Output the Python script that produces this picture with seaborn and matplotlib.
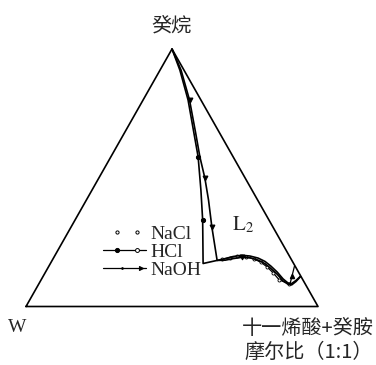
import numpy as np
import pandas as pd
import matplotlib
matplotlib.use("Agg")
import matplotlib.pyplot as plt
import seaborn as sns
from matplotlib.lines import Line2D
from matplotlib.legend_handler import HandlerBase

# Phase-boundary compositions (mass %): decane and undecenoic acid + decylamine (1:1)
hcl_decane = [100, 91.8, 80.2, 67.4, 58.1, 45.2, 33.6, 16.7,
              17.9, 18.6, 19.4, 19.9, 19.6, 18.8, 17.5, 15.7, 13.4, 10.7, 9.1, 8.9, 10.1, 11.7]
hcl_surf = [0, 6.8, 15.4, 23.8, 29.9, 37.3, 43.7, 52.3,
            56.5, 58.9, 61.2, 64.0, 66.9, 70.1, 73.1, 76.0, 79.3, 82.7, 85.2, 86.5, 87.4, 88.1]

naoh_decane = [100, 91.8, 80.2, 67.4, 58.1, 49.9, 41.4, 30.9,
               17.9, 18.0, 18.6, 19.1, 18.9, 18.0, 16.6, 14.8, 12.5, 9.9, 8.6, 8.4, 9.7, 11.6]
naoh_surf = [0, 7.2, 15.9, 24.4, 30.5, 36.3, 41.8, 48.2,
             56.5, 59.3, 61.6, 64.4, 67.3, 70.5, 73.6, 76.4, 79.8, 83.1, 85.5, 86.8, 87.6, 88.2]

nacl_decane = [18.3, 19.0, 19.5, 19.3, 18.5, 17.1, 15.3, 13.0, 10.3, 8.9]
nacl_surf = [57.9, 60.3, 62.6, 65.6, 68.8, 72.0, 75.0, 78.2, 81.6, 85.6]

tie_decane = [8.9, 15.7]
tie_surf = [86.0, 84.1]

# Corners of the diagram: W (water), surfactant pair, decane
corner_decane = [0, 0, 100, 0]
corner_surf = [0, 100, 0, 0]


def to_xy(decane, surf):
    d = np.asarray(decane, float) / 100.0
    s = np.asarray(surf, float) / 100.0
    return pd.DataFrame({"x": s + d / 2.0, "y": d})


sns.set_theme(style="white")
plt.rcParams["mathtext.fontset"] = "stix"
serif = ["Liberation Serif", "DejaVu Serif"]
cjk = ["Noto Sans CJK SC", "DejaVu Sans"]

fig = plt.figure(figsize=(3.76, 3.65), dpi=100)
ax = fig.add_axes([0, 0, 1, 1])
ax.set_xlim(-26 / 292, 350 / 292)
ax.set_ylim(-58.5 / 257.5, 306.5 / 257.5)
ax.axis("off")

tri = to_xy(corner_decane, corner_surf)
sns.lineplot(data=tri, x="x", y="y", sort=False, estimator=None,
             color="black", lw=1.2, ax=ax)

nacl = to_xy(nacl_decane, nacl_surf)
sns.lineplot(data=nacl, x="x", y="y", sort=False, estimator=None, color="black",
             lw=0.9, marker="o", ms=2.2, mfc="white", mec="black", mew=0.6, ax=ax)

hcl = to_xy(hcl_decane, hcl_surf)
sns.lineplot(data=hcl, x="x", y="y", sort=False, estimator=None, color="black",
             lw=1.2, marker="o", ms=3, mfc="black", mec="black", markevery=[4, 6], ax=ax)

naoh = to_xy(naoh_decane, naoh_surf)
sns.lineplot(data=naoh, x="x", y="y", sort=False, estimator=None, color="black",
             lw=1.2, marker="v", ms=3.5, mfc="black", mec="black",
             markevery=[2, 5, 7, 11], ax=ax)

tie = to_xy(tie_decane, tie_surf)
sns.lineplot(data=tie, x="x", y="y", sort=False, estimator=None, color="black",
             lw=0.9, ax=ax)
mid = tie.mean()
ax.plot([mid.x], [mid.y - 0.005], marker="^", ms=3, color="black", ls="none")


class SampleHandler(HandlerBase):
    """Legend sample: optional line plus markers at chosen fractions of its length."""

    def __init__(self, line, marks, **kw):
        super().__init__(**kw)
        self.line = line
        self.marks = marks

    def create_artists(self, legend, orig_handle, xdescent, ydescent,
                       width, height, fontsize, trans):
        y = height / 2 - ydescent
        x0, x1 = -xdescent, width - xdescent
        arts = []
        if self.line:
            arts.append(Line2D([x0, x1], [y, y], color="black", lw=0.9, transform=trans))
        for frac, mk, fc, ms in self.marks:
            xm = x0 + frac * (x1 - x0)
            arts.append(Line2D([xm], [y], marker=mk, ms=ms, mfc=fc, mec="black",
                               mew=0.7, ls="none", transform=trans))
        return arts


h_nacl, h_hcl, h_naoh = Line2D([], []), Line2D([], []), Line2D([], [])
handler_map = {
    h_nacl: SampleHandler(False, [(0.33, "o", "white", 2.3), (0.8, "o", "white", 2.3)]),
    h_hcl: SampleHandler(True, [(0.33, "o", "black", 3), (0.8, "o", "white", 2.8)]),
    h_naoh: SampleHandler(True, [(0.45, "o", "black", 1.2), (0.88, ">", "black", 3)]),
}
ax.legend([h_nacl, h_hcl, h_naoh], ["NaCl", "HCl", "NaOH"], handler_map=handler_map,
          loc="upper left", bbox_to_anchor=(103 / 376, 1 - 225 / 365),
          frameon=False, borderpad=0, borderaxespad=0, handlelength=2.2,
          handletextpad=0.25, labelspacing=0.02, prop={"family": serif, "size": 14})

ax.text(0.497, 1.09, "癸烷", ha="center", va="center", fontsize=14.5, family=cjk)
ax.text(-0.03, -0.082, "W", ha="center", va="center", fontsize=14, family=serif)
ax.text(0.966, -0.087, "十一烯酸+癸胺", ha="center", va="center", fontsize=14.5, family=cjk)
ax.text(0.968, -0.179, "摩尔比（1:1）", ha="center", va="center", fontsize=14.5, family=cjk)
ax.text(0.705, 0.297, r"$\mathrm{L}_2$", ha="left", va="baseline", fontsize=15)

fig.savefig("out.png", dpi=100)
